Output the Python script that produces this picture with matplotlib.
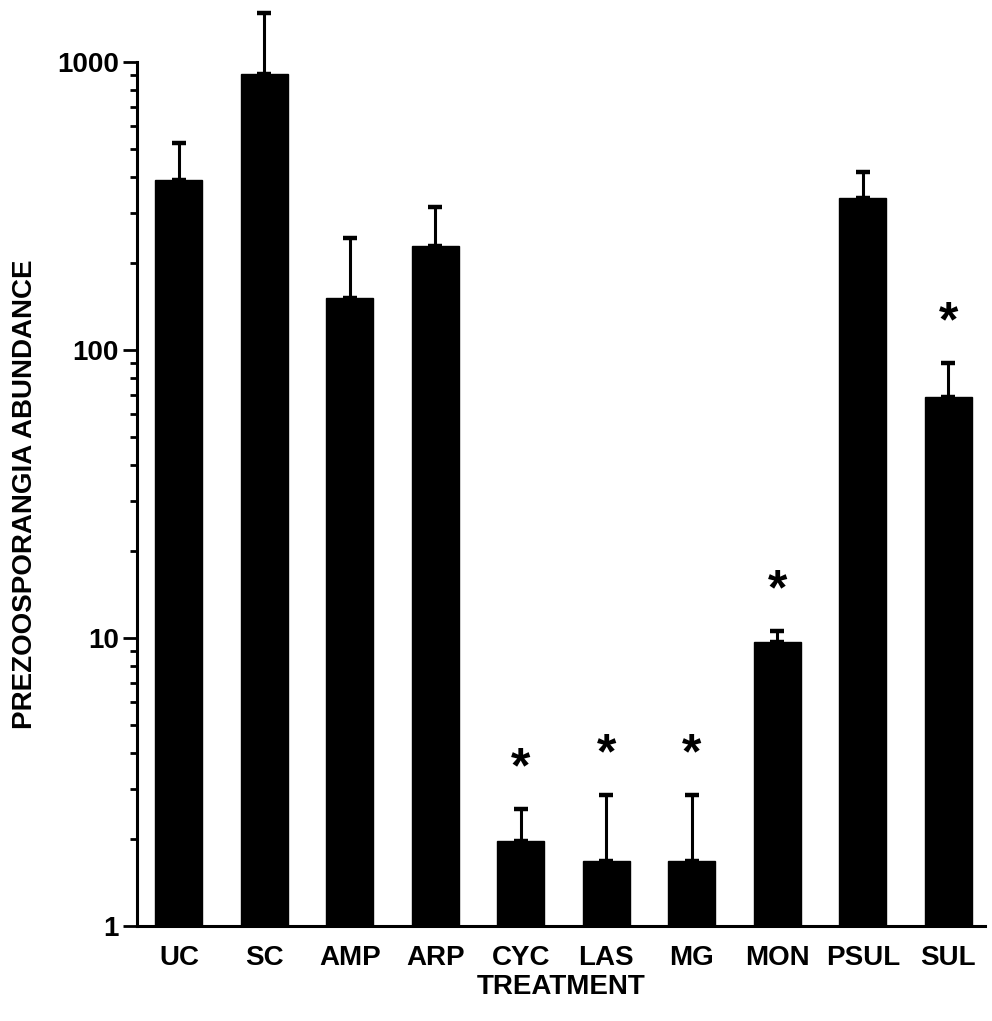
import matplotlib
matplotlib.use("Agg")
import matplotlib.pyplot as plt
import numpy as np
from matplotlib.ticker import LogLocator, FixedLocator, NullFormatter

categories = ["UC", "SC", "AMP", "ARP", "CYC", "LAS", "MG", "MON", "PSUL", "SUL"]
means = [389, 908, 152, 230, 1.97, 1.68, 1.68, 9.69, 337, 68.7]
upper = [523, 1479, 245, 314, 2.55, 2.85, 2.85, 10.6, 415, 90.1]
significant = [False, False, False, False, True, True, True, True, False, True]
ytick_values = [1, 10, 100, 1000]
ytick_labels = ["1", "10", "100", "1000"]

plt.rcParams['font.family'] = ['Liberation Sans', 'DejaVu Sans']

fig = plt.figure(figsize=(9.92, 10.21), dpi=100)
ax = fig.add_axes([137/992, (1021-926)/1021, (985-137)/992, (926-62)/1021])

x = np.arange(len(categories))
m = np.array(means)
u = np.array(upper)

ax.bar(x, m, width=0.55, color="black", edgecolor="black", zorder=2)
ax.errorbar(x, m, yerr=[np.zeros_like(m), u - m], fmt="none", ecolor="black",
            elinewidth=2.2, capsize=5, capthick=3.2, zorder=3, clip_on=False)

for xi, top, sig in zip(x, u, significant):
    if sig:
        ax.annotate("*", xy=(xi, top), xytext=(0, 12), textcoords="offset points",
                    ha="center", va="bottom", fontsize=36, fontweight="bold",
                    annotation_clip=False)

ax.set_yscale("log")
ax.set_ylim(1, 1000)
ax.set_xlim(-0.49, 9.43)
ax.yaxis.set_major_locator(FixedLocator(ytick_values))
ax.set_yticklabels(ytick_labels)
ax.yaxis.set_minor_locator(LogLocator(base=10, subs=np.arange(2, 10)))
ax.yaxis.set_minor_formatter(NullFormatter())

ax.set_xticks(x)
ax.set_xticklabels(categories)

for s in ["top", "right"]:
    ax.spines[s].set_visible(False)
ax.spines["left"].set_linewidth(2.2)
ax.spines["bottom"].set_linewidth(2.2)

ax.tick_params(axis="y", which="major", direction="out", length=10, width=2, labelsize=20, pad=3)
ax.tick_params(axis="y", which="minor", direction="out", length=5, width=2)
ax.tick_params(axis="x", which="both", length=0, labelsize=20, pad=14)
for lbl in ax.get_xticklabels() + ax.get_yticklabels():
    lbl.set_fontweight("bold")

ax.set_xlabel("TREATMENT", fontsize=20, fontweight="bold", labelpad=2)
ax.set_ylabel("PREZOOSPORANGIA ABUNDANCE", fontsize=20, fontweight="bold", labelpad=14)

fig.savefig("out.png", dpi=100)
